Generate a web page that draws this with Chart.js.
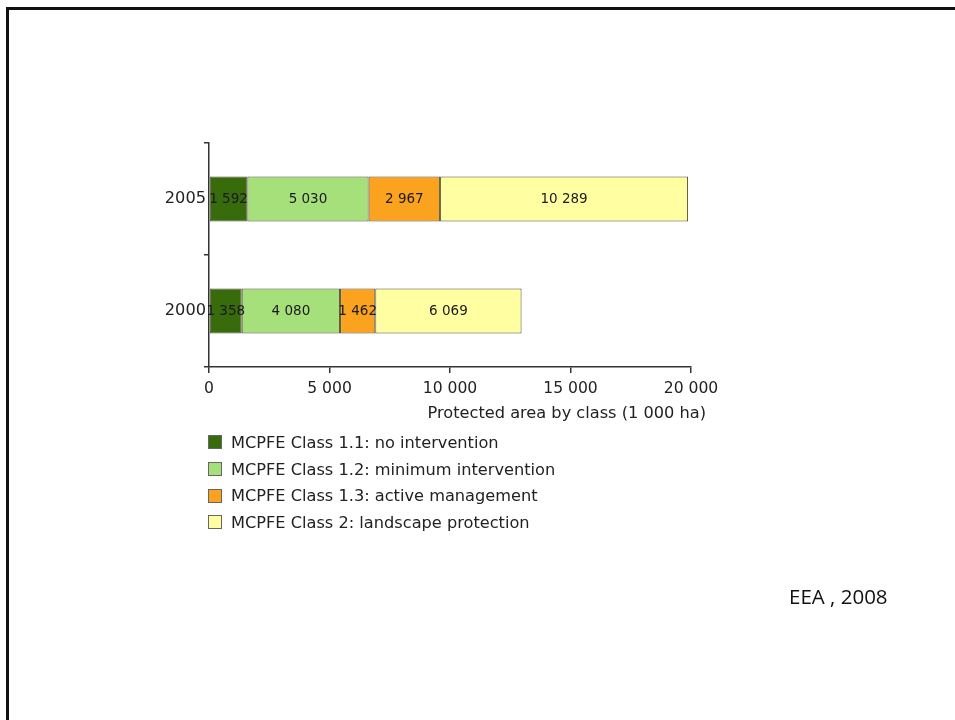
<!DOCTYPE html>
<html>
<head>
<meta charset="utf-8">
<script src="https://cdn.jsdelivr.net/npm/chart.js@4"></script>
<style>
  html, body { margin: 0; padding: 0; background: #fff; }
  body { width: 955px; height: 720px; position: relative; overflow: hidden; font-family: "DejaVu Sans", Verdana, sans-serif; }
  #frame { position: absolute; left: 6px; top: 7px; right: -10px; bottom: -10px; border-top: 3px solid #111; border-left: 3px solid #111; }
  #wrap { position: absolute; left: 0; top: 0; width: 955px; height: 720px; }
  #xtitle { position: absolute; right: 249px; top: 403px; font-size: 16.2px; color: #222; white-space: nowrap; }
  #legend { position: absolute; left: 208px; top: 429px; font-size: 16.2px; color: #222; }
  #legend div { height: 26.7px; display: flex; align-items: center; white-space: nowrap; }
  #legend span.box { display: inline-block; width: 12px; height: 12px; border: 1px solid #666; margin-right: 9px; }
  #source { position: absolute; left: 789px; top: 582px; font-family: "Open Sans", "Liberation Sans", sans-serif; font-size: 20.5px; color: #111; }
</style>
</head>
<body>
<div id="frame"></div>
<div id="wrap"><canvas id="grafico" width="955" height="720"></canvas></div>
<div id="xtitle">Protected area by class (1 000 ha)</div>
<div id="legend"></div>
<div id="source">EEA , 2008</div>
<script>
const years = ["2005", "2000"];
const classes = [
  "MCPFE Class 1.1: no intervention",
  "MCPFE Class 1.2: minimum intervention",
  "MCPFE Class 1.3: active management",
  "MCPFE Class 2: landscape protection"
];
const class11 = [1592, 1358];
const class12 = [5030, 4080];
const class13 = [2967, 1462];
const class2 = [10289, 6069];
const xTicks = [0, 5000, 10000, 15000, 20000];

const colors = ['#386b0b', '#a6e07b', '#fba21f', '#ffffa2'];
const series = [class11, class12, class13, class2];

function spaced(n) {
  return String(n).replace(/\B(?=(\d{3})+(?!\d))/g, ' ');
}

// legend in html
const legend = document.getElementById('legend');
classes.forEach((name, i) => {
  const row = document.createElement('div');
  row.innerHTML = '<span class="box" style="background:' + colors[i] + '"></span>' + name;
  legend.appendChild(row);
});

// draws the value in the middle of every segment
const barLabels = {
  id: 'barLabels',
  afterDatasetsDraw(chart) {
    const ctx = chart.ctx;
    ctx.save();
    ctx.font = '13.5px "DejaVu Sans", Verdana, sans-serif';
    ctx.fillStyle = '#1a1a1a';
    ctx.textAlign = 'center';
    ctx.textBaseline = 'middle';
    chart.data.datasets.forEach((ds, di) => {
      chart.getDatasetMeta(di).data.forEach((bar, i) => {
        const mid = (bar.x + bar.base) / 2;
        ctx.fillText(spaced(ds.data[i]), mid, bar.y);
      });
    });
    ctx.restore();
  }
};

const datasets = classes.map((name, i) => ({
  label: name,
  data: series[i],
  backgroundColor: colors[i],
  borderColor: '#4f4f35',
  borderWidth: 1,
  borderSkipped: false,
  categoryPercentage: 1,
  barPercentage: 0.4
}));

new Chart(document.getElementById('grafico'), {
  type: 'bar',
  data: { labels: years, datasets: datasets },
  plugins: [barLabels],
  options: {
    indexAxis: 'y',
    responsive: false,
    animation: false,
    layout: { padding: { left: 0, right: 264, top: 143, bottom: 294 } },
    plugins: { legend: { display: false }, tooltip: { enabled: false } },
    scales: {
      x: {
        stacked: true,
        min: 0,
        max: 20000,
        afterBuildTicks: (scale) => { scale.ticks = xTicks.map(v => ({ value: v })); },
        afterFit: (scale) => { scale.height = 59; },
        grid: { drawOnChartArea: false, drawTicks: true, tickLength: 6, color: '#333', lineWidth: 1.5 },
        border: { color: '#333', width: 1.5 },
        ticks: {
          color: '#222',
          padding: 7,
          maxRotation: 0,
          font: { family: '"DejaVu Sans", Verdana, sans-serif', size: 15.6 },
          callback: (v) => spaced(v)
        }
      },
      y: {
        stacked: true,
        afterFit: (scale) => { scale.width = 209; },
        grid: { offset: true, drawOnChartArea: false, drawTicks: true, tickLength: 5, color: '#333', lineWidth: 1.5 },
        border: { color: '#333', width: 1.5 },
        ticks: {
          color: '#222',
          padding: -2,
          font: { family: '"DejaVu Sans", Verdana, sans-serif', size: 16.2 }
        }
      }
    }
  }
});
</script>
</body>
</html>
